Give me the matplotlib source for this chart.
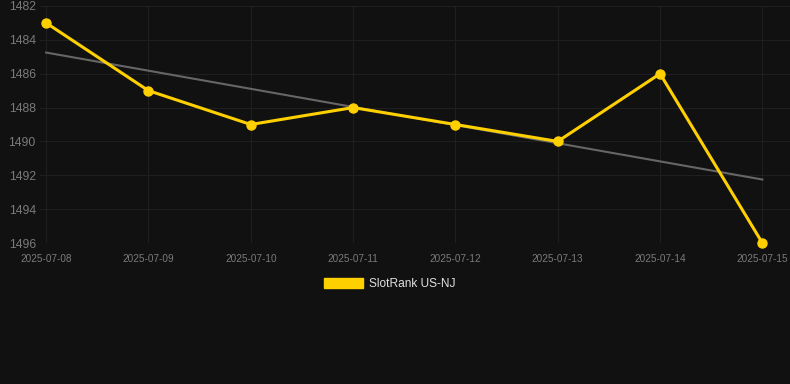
import matplotlib
matplotlib.use("Agg")
import matplotlib.pyplot as plt
from matplotlib.patches import Patch

plt.rcParams["font.family"] = ["Liberation Sans", "DejaVu Sans"]

dates = ["2025-07-08", "2025-07-09", "2025-07-10", "2025-07-11",
         "2025-07-12", "2025-07-13", "2025-07-14", "2025-07-15"]
ranks = [1483, 1487, 1489, 1488, 1489, 1490, 1486, 1496]
trend_ends = [1484.75, 1492.25]
y_ticks = [1482, 1484, 1486, 1488, 1490, 1492, 1494, 1496]

bg = "#111111"
fig = plt.figure(figsize=(7.9, 3.84), dpi=100, facecolor=bg)
ax = fig.add_axes([40/790, 1 - 243/384, 1 - 40/790, (243 - 6)/384])
ax.set_facecolor(bg)

x = list(range(len(dates)))
ax.plot([x[0], x[-1]], trend_ends, color="#666666", lw=1.5, zorder=2)
ax.plot(x, ranks, color="#FFD000", lw=2.2, marker="o", ms=6.5, zorder=3,
        clip_on=False)

ax.set_ylim(1496, 1482)
ax.set_xlim(-0.06, 7.27)
ax.set_yticks(y_ticks)
ax.set_yticklabels([str(v) for v in y_ticks])
ax.set_xticks(x)
ax.set_xticklabels(dates)
ax.grid(True, color="#1f1f1f", lw=0.8)
ax.set_axisbelow(True)
for s in ax.spines.values():
    s.set_visible(False)
ax.tick_params(axis="y", length=0, pad=3, labelsize=8.8, labelcolor="#7a7a7a")
ax.tick_params(axis="x", length=0, pad=8, labelsize=7.2, labelcolor="#7a7a7a")

handle = Patch(facecolor="#FFD000", edgecolor="#FFD000")
fig.legend([handle], ["SlotRank US-NJ"], loc="center",
           bbox_to_anchor=(389.5/790, 1 - 284/384),
           frameon=False, fontsize=8.6, labelcolor="#e0e0e0",
           handlelength=3.3, handleheight=1.0, handletextpad=0.5)

fig.savefig("out.png", dpi=100, facecolor=bg)
